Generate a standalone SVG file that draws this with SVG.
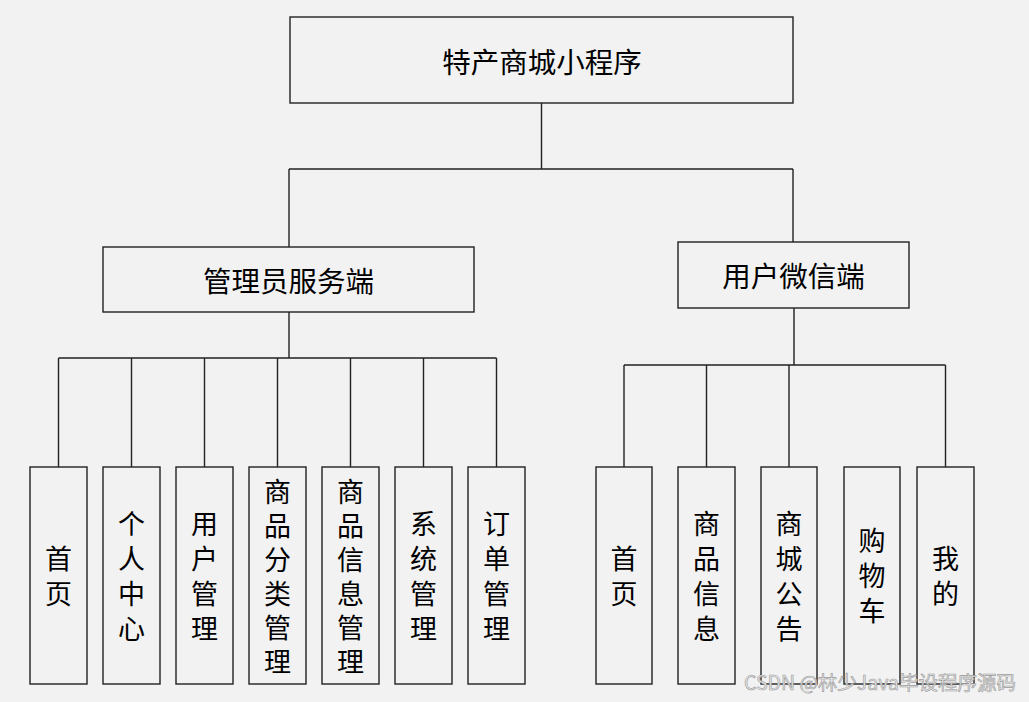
<svg xmlns="http://www.w3.org/2000/svg" width="1029" height="702" viewBox="0 0 1029 702">
<style>
.box{fill:#f2f2f2;stroke:#222;stroke-width:1.4}
.ln{fill:none;stroke:#222;stroke-width:1.4}
.t{font-family:"Noto Sans CJK SC","Microsoft YaHei",sans-serif;font-size:27px;fill:#000;text-anchor:middle;dominant-baseline:central}
.h{font-size:28.5px}
.wm{font-family:"Noto Sans CJK SC",sans-serif;font-size:19.5px;fill:#e6e6e6;stroke:#9a9a9a;stroke-width:0.6;text-anchor:start}
</style>
<rect width="1029" height="702" fill="#f2f2f2"/>
<g id="connectors">
<path class="ln" d="M541.5 103V169M289 169H793M289 169V247M793 169V242"/>
<path class="ln" d="M289 312V358M58.5 358H496.5M58.5 358V467M131.5 358V467M204.5 358V467M277.5 358V467M350.5 358V467M423.5 358V467M496.5 358V467"/>
<path class="ln" d="M794 308V365M624 365H945.5M624 365V467M706.5 365V467M789 365V467M945.5 365V467"/>
</g>
<g id="root"><rect class="box" x="290" y="17" width="503" height="86"/><text class="t h" x="542" y="60">特产商城小程序</text></g>
<g id="admin"><rect class="box" x="103" y="247" width="371" height="65"/><text class="t h" x="288.5" y="279">管理员服务端</text></g>
<g id="wechat"><rect class="box" x="678" y="242" width="231" height="66"/><text class="t h" x="793.5" y="274.5">用户微信端</text></g>
<g id="a1"><rect class="box" x="30" y="467" width="57" height="217"/><text class="t" x="58.5"><tspan x="58.5" y="557">首</tspan><tspan x="58.5" y="592">页</tspan></text></g>
<g id="a2"><rect class="box" x="103" y="467" width="57" height="217"/><text class="t"><tspan x="131.5" y="522">个</tspan><tspan x="131.5" y="557">人</tspan><tspan x="131.5" y="592">中</tspan><tspan x="131.5" y="627">心</tspan></text></g>
<g id="a3"><rect class="box" x="176" y="467" width="57" height="217"/><text class="t"><tspan x="204.5" y="522">用</tspan><tspan x="204.5" y="557">户</tspan><tspan x="204.5" y="592">管</tspan><tspan x="204.5" y="627">理</tspan></text></g>
<g id="a4"><rect class="box" x="249" y="467" width="57" height="217"/><text class="t"><tspan x="277.5" y="490">商</tspan><tspan x="277.5" y="524">品</tspan><tspan x="277.5" y="558">分</tspan><tspan x="277.5" y="592">类</tspan><tspan x="277.5" y="626">管</tspan><tspan x="277.5" y="660">理</tspan></text></g>
<g id="a5"><rect class="box" x="322" y="467" width="57" height="217"/><text class="t"><tspan x="350.5" y="490">商</tspan><tspan x="350.5" y="524">品</tspan><tspan x="350.5" y="558">信</tspan><tspan x="350.5" y="592">息</tspan><tspan x="350.5" y="626">管</tspan><tspan x="350.5" y="660">理</tspan></text></g>
<g id="a6"><rect class="box" x="395" y="467" width="57" height="217"/><text class="t"><tspan x="423.5" y="522">系</tspan><tspan x="423.5" y="557">统</tspan><tspan x="423.5" y="592">管</tspan><tspan x="423.5" y="627">理</tspan></text></g>
<g id="a7"><rect class="box" x="468" y="467" width="57" height="217"/><text class="t"><tspan x="496.5" y="522">订</tspan><tspan x="496.5" y="557">单</tspan><tspan x="496.5" y="592">管</tspan><tspan x="496.5" y="627">理</tspan></text></g>
<g id="u1"><rect class="box" x="596" y="467" width="56" height="217"/><text class="t"><tspan x="624" y="557">首</tspan><tspan x="624" y="592">页</tspan></text></g>
<g id="u2"><rect class="box" x="678" y="467" width="57" height="217"/><text class="t"><tspan x="706.5" y="522">商</tspan><tspan x="706.5" y="557">品</tspan><tspan x="706.5" y="592">信</tspan><tspan x="706.5" y="627">息</tspan></text></g>
<g id="u3"><rect class="box" x="761" y="467" width="56" height="217"/><text class="t"><tspan x="789" y="522">商</tspan><tspan x="789" y="557">城</tspan><tspan x="789" y="592">公</tspan><tspan x="789" y="627">告</tspan></text></g>
<g id="u4"><rect class="box" x="844" y="467" width="56" height="217"/><text class="t"><tspan x="872" y="539">购</tspan><tspan x="872" y="574">物</tspan><tspan x="872" y="609">车</tspan></text></g>
<g id="u5"><rect class="box" x="917" y="467" width="57" height="217"/><text class="t"><tspan x="945.5" y="557">我</tspan><tspan x="945.5" y="592">的</tspan></text></g>
<text class="wm" x="744" y="690">CSDN @林少Java毕设程序源码</text>
</svg>
